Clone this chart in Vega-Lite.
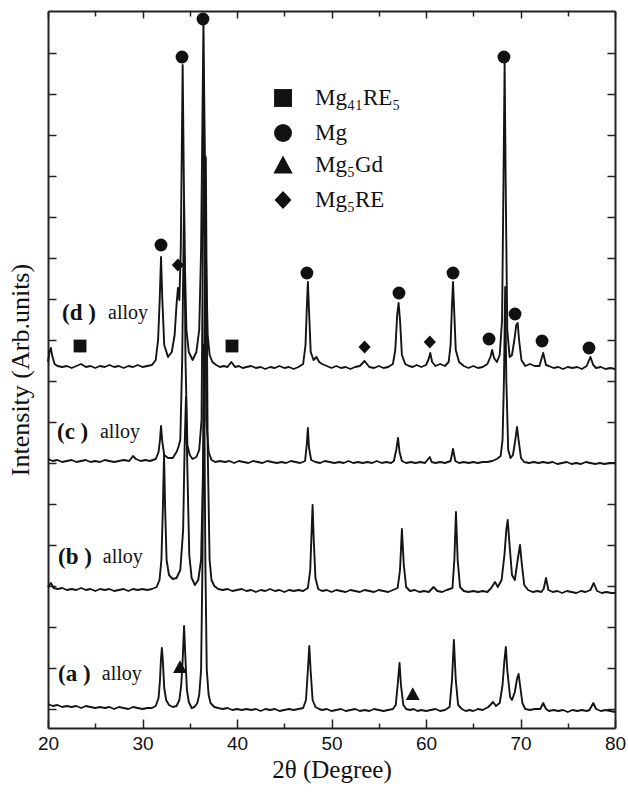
{
"$schema": "https://vega.github.io/schema/vega-lite/v6.json",
"width": 567, "height": 717,
"autosize": {"type": "none"},
"padding": {"left": 48, "top": 11, "right": 13, "bottom": 65},
"background": "white",
"config": {"view": {"stroke": null}, "font": "Liberation Serif"},
"datasets": {
"traces": [
{"sample":"a","two_theta":20,"intensity":5},{"sample":"a","two_theta":20.5,"intensity":3},{"sample":"a","two_theta":21,"intensity":4},{"sample":"a","two_theta":21.5,"intensity":2},{"sample":"a","two_theta":22,"intensity":3},{"sample":"a","two_theta":22.5,"intensity":2},{"sample":"a","two_theta":23,"intensity":3},{"sample":"a","two_theta":23.5,"intensity":1},{"sample":"a","two_theta":24,"intensity":3},{"sample":"a","two_theta":24.5,"intensity":2},{"sample":"a","two_theta":25,"intensity":1},{"sample":"a","two_theta":25.5,"intensity":2},{"sample":"a","two_theta":26,"intensity":1},{"sample":"a","two_theta":26.5,"intensity":2},{"sample":"a","two_theta":27,"intensity":0},{"sample":"a","two_theta":27.5,"intensity":2},{"sample":"a","two_theta":28,"intensity":1},{"sample":"a","two_theta":28.5,"intensity":0},{"sample":"a","two_theta":29,"intensity":2},{"sample":"a","two_theta":29.5,"intensity":1},{"sample":"a","two_theta":30,"intensity":0},{"sample":"a","two_theta":30.5,"intensity":1},{"sample":"a","two_theta":31,"intensity":1},{"sample":"a","two_theta":31.4,"intensity":3},{"sample":"a","two_theta":31.7,"intensity":11},{"sample":"a","two_theta":31.85,"intensity":29},{"sample":"a","two_theta":31.95,"intensity":49},{"sample":"a","two_theta":32.05,"intensity":61},{"sample":"a","two_theta":32.15,"intensity":49},{"sample":"a","two_theta":32.3,"intensity":21},{"sample":"a","two_theta":32.5,"intensity":9},{"sample":"a","two_theta":32.8,"intensity":4},{"sample":"a","two_theta":33.2,"intensity":2},{"sample":"a","two_theta":33.6,"intensity":3},{"sample":"a","two_theta":33.9,"intensity":9},{"sample":"a","two_theta":34.1,"intensity":24},{"sample":"a","two_theta":34.25,"intensity":49},{"sample":"a","two_theta":34.4,"intensity":83},{"sample":"a","two_theta":34.55,"intensity":49},{"sample":"a","two_theta":34.7,"intensity":19},{"sample":"a","two_theta":34.9,"intensity":7},{"sample":"a","two_theta":35.2,"intensity":1},{"sample":"a","two_theta":35.5,"intensity":2},{"sample":"a","two_theta":35.8,"intensity":6},{"sample":"a","two_theta":36.0,"intensity":14},{"sample":"a","two_theta":36.2,"intensity":39},{"sample":"a","two_theta":36.35,"intensity":149},{"sample":"a","two_theta":36.5,"intensity":364},{"sample":"a","two_theta":36.65,"intensity":149},{"sample":"a","two_theta":36.8,"intensity":39},{"sample":"a","two_theta":37,"intensity":14},{"sample":"a","two_theta":37.2,"intensity":6},{"sample":"a","two_theta":37.6,"intensity":2},{"sample":"a","two_theta":38,"intensity":1},{"sample":"a","two_theta":38.5,"intensity":0},{"sample":"a","two_theta":39,"intensity":1},{"sample":"a","two_theta":39.5,"intensity":-1},{"sample":"a","two_theta":40,"intensity":0},{"sample":"a","two_theta":40.5,"intensity":-1},{"sample":"a","two_theta":41,"intensity":0},{"sample":"a","two_theta":41.5,"intensity":-1},{"sample":"a","two_theta":42,"intensity":0},{"sample":"a","two_theta":42.5,"intensity":-2},{"sample":"a","two_theta":43,"intensity":0},{"sample":"a","two_theta":43.5,"intensity":-1},{"sample":"a","two_theta":44,"intensity":0},{"sample":"a","two_theta":44.5,"intensity":-2},{"sample":"a","two_theta":45,"intensity":-1},{"sample":"a","two_theta":45.5,"intensity":0},{"sample":"a","two_theta":46,"intensity":-1},{"sample":"a","two_theta":46.5,"intensity":0},{"sample":"a","two_theta":47,"intensity":1},{"sample":"a","two_theta":47.3,"intensity":9},{"sample":"a","two_theta":47.5,"intensity":39},{"sample":"a","two_theta":47.65,"intensity":63},{"sample":"a","two_theta":47.8,"intensity":37},{"sample":"a","two_theta":48,"intensity":9},{"sample":"a","two_theta":48.3,"intensity":2},{"sample":"a","two_theta":48.7,"intensity":0},{"sample":"a","two_theta":49,"intensity":-1},{"sample":"a","two_theta":49.5,"intensity":0},{"sample":"a","two_theta":50,"intensity":-2},{"sample":"a","two_theta":50.5,"intensity":-1},{"sample":"a","two_theta":51,"intensity":0},{"sample":"a","two_theta":51.5,"intensity":-2},{"sample":"a","two_theta":52,"intensity":-1},{"sample":"a","two_theta":52.5,"intensity":0},{"sample":"a","two_theta":53,"intensity":-2},{"sample":"a","two_theta":53.5,"intensity":-1},{"sample":"a","two_theta":54,"intensity":-2},{"sample":"a","two_theta":54.5,"intensity":0},{"sample":"a","two_theta":55,"intensity":-1},{"sample":"a","two_theta":55.5,"intensity":-2},{"sample":"a","two_theta":56,"intensity":-1},{"sample":"a","two_theta":56.5,"intensity":0},{"sample":"a","two_theta":56.8,"intensity":4},{"sample":"a","two_theta":57,"intensity":24},{"sample":"a","two_theta":57.2,"intensity":46},{"sample":"a","two_theta":57.35,"intensity":24},{"sample":"a","two_theta":57.6,"intensity":4},{"sample":"a","two_theta":57.9,"intensity":0},{"sample":"a","two_theta":58.3,"intensity":-1},{"sample":"a","two_theta":58.7,"intensity":0},{"sample":"a","two_theta":59.1,"intensity":-2},{"sample":"a","two_theta":59.5,"intensity":-1},{"sample":"a","two_theta":60,"intensity":-2},{"sample":"a","two_theta":60.5,"intensity":-1},{"sample":"a","two_theta":61,"intensity":0},{"sample":"a","two_theta":61.5,"intensity":-2},{"sample":"a","two_theta":62,"intensity":-1},{"sample":"a","two_theta":62.5,"intensity":2},{"sample":"a","two_theta":62.75,"intensity":29},{"sample":"a","two_theta":62.95,"intensity":69},{"sample":"a","two_theta":63.15,"intensity":29},{"sample":"a","two_theta":63.4,"intensity":4},{"sample":"a","two_theta":63.8,"intensity":0},{"sample":"a","two_theta":64.2,"intensity":-2},{"sample":"a","two_theta":64.6,"intensity":-1},{"sample":"a","two_theta":65,"intensity":-2},{"sample":"a","two_theta":65.5,"intensity":0},{"sample":"a","two_theta":66,"intensity":-1},{"sample":"a","two_theta":66.6,"intensity":2},{"sample":"a","two_theta":67.1,"intensity":7},{"sample":"a","two_theta":67.4,"intensity":3},{"sample":"a","two_theta":67.8,"intensity":6},{"sample":"a","two_theta":68.1,"intensity":24},{"sample":"a","two_theta":68.3,"intensity":49},{"sample":"a","two_theta":68.45,"intensity":62},{"sample":"a","two_theta":68.6,"intensity":39},{"sample":"a","two_theta":68.9,"intensity":12},{"sample":"a","two_theta":69.1,"intensity":9},{"sample":"a","two_theta":69.4,"intensity":17},{"sample":"a","two_theta":69.65,"intensity":31},{"sample":"a","two_theta":69.8,"intensity":35},{"sample":"a","two_theta":69.95,"intensity":24},{"sample":"a","two_theta":70.2,"intensity":6},{"sample":"a","two_theta":70.5,"intensity":0},{"sample":"a","two_theta":71,"intensity":-1},{"sample":"a","two_theta":71.5,"intensity":0},{"sample":"a","two_theta":72.1,"intensity":0},{"sample":"a","two_theta":72.4,"intensity":6},{"sample":"a","two_theta":72.7,"intensity":0},{"sample":"a","two_theta":73,"intensity":-2},{"sample":"a","two_theta":73.5,"intensity":-1},{"sample":"a","two_theta":74,"intensity":-2},{"sample":"a","two_theta":74.5,"intensity":-1},{"sample":"a","two_theta":75,"intensity":-3},{"sample":"a","two_theta":75.5,"intensity":-1},{"sample":"a","two_theta":76,"intensity":-2},{"sample":"a","two_theta":76.5,"intensity":-1},{"sample":"a","two_theta":77,"intensity":-2},{"sample":"a","two_theta":77.3,"intensity":-1},{"sample":"a","two_theta":77.7,"intensity":6},{"sample":"a","two_theta":78,"intensity":0},{"sample":"a","two_theta":78.5,"intensity":-2},{"sample":"a","two_theta":79,"intensity":-1},{"sample":"a","two_theta":79.5,"intensity":-2},{"sample":"a","two_theta":80,"intensity":-3},
{"sample":"b","two_theta":20,"intensity":122},{"sample":"b","two_theta":20.3,"intensity":126},{"sample":"b","two_theta":20.6,"intensity":121},{"sample":"b","two_theta":21,"intensity":120},{"sample":"b","two_theta":21.5,"intensity":121},{"sample":"b","two_theta":22,"intensity":119},{"sample":"b","two_theta":22.5,"intensity":120},{"sample":"b","two_theta":23,"intensity":119},{"sample":"b","two_theta":23.5,"intensity":121},{"sample":"b","two_theta":24,"intensity":119},{"sample":"b","two_theta":24.5,"intensity":120},{"sample":"b","two_theta":25,"intensity":118},{"sample":"b","two_theta":25.5,"intensity":120},{"sample":"b","two_theta":26,"intensity":119},{"sample":"b","two_theta":26.5,"intensity":120},{"sample":"b","two_theta":27,"intensity":118},{"sample":"b","two_theta":27.5,"intensity":119},{"sample":"b","two_theta":28,"intensity":120},{"sample":"b","two_theta":28.5,"intensity":118},{"sample":"b","two_theta":29,"intensity":120},{"sample":"b","two_theta":29.5,"intensity":119},{"sample":"b","two_theta":30,"intensity":120},{"sample":"b","two_theta":30.5,"intensity":119},{"sample":"b","two_theta":31,"intensity":120},{"sample":"b","two_theta":31.5,"intensity":122},{"sample":"b","two_theta":31.8,"intensity":129},{"sample":"b","two_theta":32,"intensity":149},{"sample":"b","two_theta":32.15,"intensity":199},{"sample":"b","two_theta":32.28,"intensity":254},{"sample":"b","two_theta":32.4,"intensity":199},{"sample":"b","two_theta":32.55,"intensity":149},{"sample":"b","two_theta":32.8,"intensity":134},{"sample":"b","two_theta":33.2,"intensity":130},{"sample":"b","two_theta":33.6,"intensity":131},{"sample":"b","two_theta":34,"intensity":139},{"sample":"b","two_theta":34.3,"intensity":179},{"sample":"b","two_theta":34.45,"intensity":259},{"sample":"b","two_theta":34.6,"intensity":312},{"sample":"b","two_theta":34.75,"intensity":239},{"sample":"b","two_theta":34.95,"intensity":154},{"sample":"b","two_theta":35.2,"intensity":131},{"sample":"b","two_theta":35.55,"intensity":124},{"sample":"b","two_theta":35.9,"intensity":129},{"sample":"b","two_theta":36.2,"intensity":149},{"sample":"b","two_theta":36.45,"intensity":259},{"sample":"b","two_theta":36.7,"intensity":552},{"sample":"b","two_theta":36.9,"intensity":259},{"sample":"b","two_theta":37.1,"intensity":149},{"sample":"b","two_theta":37.3,"intensity":129},{"sample":"b","two_theta":37.6,"intensity":123},{"sample":"b","two_theta":38,"intensity":120},{"sample":"b","two_theta":38.5,"intensity":119},{"sample":"b","two_theta":39,"intensity":120},{"sample":"b","two_theta":39.5,"intensity":118},{"sample":"b","two_theta":40,"intensity":119},{"sample":"b","two_theta":40.5,"intensity":120},{"sample":"b","two_theta":41,"intensity":118},{"sample":"b","two_theta":41.5,"intensity":119},{"sample":"b","two_theta":42,"intensity":117},{"sample":"b","two_theta":42.5,"intensity":119},{"sample":"b","two_theta":43,"intensity":118},{"sample":"b","two_theta":43.5,"intensity":120},{"sample":"b","two_theta":44,"intensity":118},{"sample":"b","two_theta":44.5,"intensity":119},{"sample":"b","two_theta":45,"intensity":117},{"sample":"b","two_theta":45.5,"intensity":119},{"sample":"b","two_theta":46,"intensity":118},{"sample":"b","two_theta":46.5,"intensity":119},{"sample":"b","two_theta":47,"intensity":118},{"sample":"b","two_theta":47.5,"intensity":121},{"sample":"b","two_theta":47.75,"intensity":139},{"sample":"b","two_theta":47.9,"intensity":179},{"sample":"b","two_theta":48,"intensity":204},{"sample":"b","two_theta":48.12,"intensity":169},{"sample":"b","two_theta":48.3,"intensity":131},{"sample":"b","two_theta":48.6,"intensity":120},{"sample":"b","two_theta":49,"intensity":118},{"sample":"b","two_theta":49.5,"intensity":119},{"sample":"b","two_theta":50,"intensity":117},{"sample":"b","two_theta":50.5,"intensity":119},{"sample":"b","two_theta":51,"intensity":118},{"sample":"b","two_theta":51.5,"intensity":117},{"sample":"b","two_theta":52,"intensity":119},{"sample":"b","two_theta":52.5,"intensity":118},{"sample":"b","two_theta":53,"intensity":117},{"sample":"b","two_theta":53.5,"intensity":119},{"sample":"b","two_theta":54,"intensity":118},{"sample":"b","two_theta":54.5,"intensity":117},{"sample":"b","two_theta":55,"intensity":119},{"sample":"b","two_theta":55.5,"intensity":118},{"sample":"b","two_theta":56,"intensity":117},{"sample":"b","two_theta":56.5,"intensity":119},{"sample":"b","two_theta":57,"intensity":121},{"sample":"b","two_theta":57.25,"intensity":139},{"sample":"b","two_theta":57.45,"intensity":180},{"sample":"b","two_theta":57.65,"intensity":144},{"sample":"b","two_theta":57.9,"intensity":122},{"sample":"b","two_theta":58.3,"intensity":118},{"sample":"b","two_theta":58.8,"intensity":119},{"sample":"b","two_theta":59.3,"intensity":117},{"sample":"b","two_theta":59.8,"intensity":118},{"sample":"b","two_theta":60.3,"intensity":117},{"sample":"b","two_theta":60.8,"intensity":122},{"sample":"b","two_theta":61.2,"intensity":118},{"sample":"b","two_theta":61.7,"intensity":117},{"sample":"b","two_theta":62.2,"intensity":119},{"sample":"b","two_theta":62.8,"intensity":121},{"sample":"b","two_theta":63,"intensity":149},{"sample":"b","two_theta":63.17,"intensity":197},{"sample":"b","two_theta":63.35,"intensity":149},{"sample":"b","two_theta":63.6,"intensity":122},{"sample":"b","two_theta":64,"intensity":118},{"sample":"b","two_theta":64.5,"intensity":117},{"sample":"b","two_theta":65,"intensity":118},{"sample":"b","two_theta":65.5,"intensity":117},{"sample":"b","two_theta":66,"intensity":118},{"sample":"b","two_theta":66.5,"intensity":117},{"sample":"b","two_theta":66.9,"intensity":121},{"sample":"b","two_theta":67.3,"intensity":127},{"sample":"b","two_theta":67.6,"intensity":122},{"sample":"b","two_theta":68,"intensity":129},{"sample":"b","two_theta":68.3,"intensity":154},{"sample":"b","two_theta":68.5,"intensity":179},{"sample":"b","two_theta":68.65,"intensity":189},{"sample":"b","two_theta":68.8,"intensity":169},{"sample":"b","two_theta":69.1,"intensity":134},{"sample":"b","two_theta":69.4,"intensity":129},{"sample":"b","two_theta":69.7,"intensity":149},{"sample":"b","two_theta":69.95,"intensity":164},{"sample":"b","two_theta":70.15,"intensity":144},{"sample":"b","two_theta":70.4,"intensity":124},{"sample":"b","two_theta":70.8,"intensity":119},{"sample":"b","two_theta":71.3,"intensity":117},{"sample":"b","two_theta":71.8,"intensity":118},{"sample":"b","two_theta":72.2,"intensity":117},{"sample":"b","two_theta":72.45,"intensity":120},{"sample":"b","two_theta":72.7,"intensity":131},{"sample":"b","two_theta":72.95,"intensity":119},{"sample":"b","two_theta":73.4,"intensity":117},{"sample":"b","two_theta":73.9,"intensity":118},{"sample":"b","two_theta":74.4,"intensity":116},{"sample":"b","two_theta":74.9,"intensity":118},{"sample":"b","two_theta":75.4,"intensity":117},{"sample":"b","two_theta":75.9,"intensity":116},{"sample":"b","two_theta":76.4,"intensity":118},{"sample":"b","two_theta":76.9,"intensity":117},{"sample":"b","two_theta":77.4,"intensity":119},{"sample":"b","two_theta":77.75,"intensity":126},{"sample":"b","two_theta":78.1,"intensity":118},{"sample":"b","two_theta":78.6,"intensity":116},{"sample":"b","two_theta":79.1,"intensity":117},{"sample":"b","two_theta":79.6,"intensity":116},{"sample":"b","two_theta":80,"intensity":116},
{"sample":"c","two_theta":20,"intensity":250},{"sample":"c","two_theta":20.5,"intensity":248},{"sample":"c","two_theta":21,"intensity":249},{"sample":"c","two_theta":21.5,"intensity":247},{"sample":"c","two_theta":22,"intensity":248},{"sample":"c","two_theta":22.5,"intensity":249},{"sample":"c","two_theta":23,"intensity":247},{"sample":"c","two_theta":23.5,"intensity":248},{"sample":"c","two_theta":24,"intensity":249},{"sample":"c","two_theta":24.5,"intensity":247},{"sample":"c","two_theta":25,"intensity":248},{"sample":"c","two_theta":25.5,"intensity":247},{"sample":"c","two_theta":26,"intensity":249},{"sample":"c","two_theta":26.5,"intensity":248},{"sample":"c","two_theta":27,"intensity":247},{"sample":"c","two_theta":27.5,"intensity":248},{"sample":"c","two_theta":28,"intensity":249},{"sample":"c","two_theta":28.6,"intensity":248},{"sample":"c","two_theta":29,"intensity":253},{"sample":"c","two_theta":29.3,"intensity":250},{"sample":"c","two_theta":29.8,"intensity":248},{"sample":"c","two_theta":30.3,"intensity":249},{"sample":"c","two_theta":30.8,"intensity":248},{"sample":"c","two_theta":31.4,"intensity":250},{"sample":"c","two_theta":31.7,"intensity":257},{"sample":"c","two_theta":31.85,"intensity":269},{"sample":"c","two_theta":31.96,"intensity":283},{"sample":"c","two_theta":32.1,"intensity":267},{"sample":"c","two_theta":32.3,"intensity":254},{"sample":"c","two_theta":32.7,"intensity":251},{"sample":"c","two_theta":33.2,"intensity":251},{"sample":"c","two_theta":33.6,"intensity":257},{"sample":"c","two_theta":33.8,"intensity":262},{"sample":"c","two_theta":34,"intensity":269},{"sample":"c","two_theta":34.2,"intensity":349},{"sample":"c","two_theta":34.4,"intensity":509},{"sample":"c","two_theta":34.55,"intensity":349},{"sample":"c","two_theta":34.75,"intensity":264},{"sample":"c","two_theta":35,"intensity":254},{"sample":"c","two_theta":35.3,"intensity":250},{"sample":"c","two_theta":35.7,"intensity":252},{"sample":"c","two_theta":36,"intensity":259},{"sample":"c","two_theta":36.25,"intensity":289},{"sample":"c","two_theta":36.5,"intensity":609},{"sample":"c","two_theta":36.75,"intensity":289},{"sample":"c","two_theta":37,"intensity":257},{"sample":"c","two_theta":37.3,"intensity":249},{"sample":"c","two_theta":37.7,"intensity":247},{"sample":"c","two_theta":38.2,"intensity":248},{"sample":"c","two_theta":38.7,"intensity":247},{"sample":"c","two_theta":39.2,"intensity":248},{"sample":"c","two_theta":39.7,"intensity":246},{"sample":"c","two_theta":40.2,"intensity":248},{"sample":"c","two_theta":40.7,"intensity":247},{"sample":"c","two_theta":41.2,"intensity":246},{"sample":"c","two_theta":41.7,"intensity":248},{"sample":"c","two_theta":42.2,"intensity":247},{"sample":"c","two_theta":42.7,"intensity":246},{"sample":"c","two_theta":43.2,"intensity":248},{"sample":"c","two_theta":43.7,"intensity":247},{"sample":"c","two_theta":44.2,"intensity":246},{"sample":"c","two_theta":44.7,"intensity":247},{"sample":"c","two_theta":45.2,"intensity":246},{"sample":"c","two_theta":45.7,"intensity":248},{"sample":"c","two_theta":46.2,"intensity":247},{"sample":"c","two_theta":46.7,"intensity":246},{"sample":"c","two_theta":47.2,"intensity":248},{"sample":"c","two_theta":47.38,"intensity":264},{"sample":"c","two_theta":47.5,"intensity":281},{"sample":"c","two_theta":47.62,"intensity":261},{"sample":"c","two_theta":47.85,"intensity":249},{"sample":"c","two_theta":48.3,"intensity":247},{"sample":"c","two_theta":48.8,"intensity":246},{"sample":"c","two_theta":49.3,"intensity":248},{"sample":"c","two_theta":49.8,"intensity":247},{"sample":"c","two_theta":50.3,"intensity":246},{"sample":"c","two_theta":50.8,"intensity":247},{"sample":"c","two_theta":51.3,"intensity":246},{"sample":"c","two_theta":51.8,"intensity":248},{"sample":"c","two_theta":52.3,"intensity":246},{"sample":"c","two_theta":52.8,"intensity":247},{"sample":"c","two_theta":53.3,"intensity":246},{"sample":"c","two_theta":53.8,"intensity":247},{"sample":"c","two_theta":54.3,"intensity":246},{"sample":"c","two_theta":54.8,"intensity":248},{"sample":"c","two_theta":55.3,"intensity":246},{"sample":"c","two_theta":55.8,"intensity":247},{"sample":"c","two_theta":56.3,"intensity":246},{"sample":"c","two_theta":56.6,"intensity":248},{"sample":"c","two_theta":56.85,"intensity":259},{"sample":"c","two_theta":57.04,"intensity":271},{"sample":"c","two_theta":57.2,"intensity":257},{"sample":"c","two_theta":57.45,"intensity":248},{"sample":"c","two_theta":57.9,"intensity":246},{"sample":"c","two_theta":58.4,"intensity":247},{"sample":"c","two_theta":58.9,"intensity":246},{"sample":"c","two_theta":59.4,"intensity":247},{"sample":"c","two_theta":59.9,"intensity":246},{"sample":"c","two_theta":60.4,"intensity":252},{"sample":"c","two_theta":60.6,"intensity":247},{"sample":"c","two_theta":61,"intensity":246},{"sample":"c","two_theta":61.5,"intensity":247},{"sample":"c","two_theta":62,"intensity":246},{"sample":"c","two_theta":62.6,"intensity":248},{"sample":"c","two_theta":62.86,"intensity":260},{"sample":"c","two_theta":63.1,"intensity":248},{"sample":"c","two_theta":63.5,"intensity":246},{"sample":"c","two_theta":64,"intensity":247},{"sample":"c","two_theta":64.5,"intensity":246},{"sample":"c","two_theta":65,"intensity":247},{"sample":"c","two_theta":65.5,"intensity":246},{"sample":"c","two_theta":66,"intensity":247},{"sample":"c","two_theta":66.5,"intensity":247},{"sample":"c","two_theta":67,"intensity":248},{"sample":"c","two_theta":67.5,"intensity":250},{"sample":"c","two_theta":67.9,"intensity":253},{"sample":"c","two_theta":68.1,"intensity":269},{"sample":"c","two_theta":68.25,"intensity":329},{"sample":"c","two_theta":68.38,"intensity":422},{"sample":"c","two_theta":68.5,"intensity":329},{"sample":"c","two_theta":68.7,"intensity":259},{"sample":"c","two_theta":68.95,"intensity":251},{"sample":"c","two_theta":69.2,"intensity":254},{"sample":"c","two_theta":69.45,"intensity":269},{"sample":"c","two_theta":69.63,"intensity":282},{"sample":"c","two_theta":69.8,"intensity":269},{"sample":"c","two_theta":70.05,"intensity":251},{"sample":"c","two_theta":70.4,"intensity":247},{"sample":"c","two_theta":70.9,"intensity":246},{"sample":"c","two_theta":71.4,"intensity":247},{"sample":"c","two_theta":71.9,"intensity":246},{"sample":"c","two_theta":72.4,"intensity":247},{"sample":"c","two_theta":72.9,"intensity":246},{"sample":"c","two_theta":73.4,"intensity":247},{"sample":"c","two_theta":73.9,"intensity":245},{"sample":"c","two_theta":74.4,"intensity":246},{"sample":"c","two_theta":74.9,"intensity":247},{"sample":"c","two_theta":75.4,"intensity":245},{"sample":"c","two_theta":75.9,"intensity":246},{"sample":"c","two_theta":76.4,"intensity":245},{"sample":"c","two_theta":76.9,"intensity":247},{"sample":"c","two_theta":77.4,"intensity":246},{"sample":"c","two_theta":77.9,"intensity":245},{"sample":"c","two_theta":78.4,"intensity":246},{"sample":"c","two_theta":78.9,"intensity":245},{"sample":"c","two_theta":79.4,"intensity":246},{"sample":"c","two_theta":80,"intensity":246},
{"sample":"d","two_theta":20,"intensity":347},{"sample":"d","two_theta":20.15,"intensity":357},{"sample":"d","two_theta":20.3,"intensity":361},{"sample":"d","two_theta":20.45,"intensity":353},{"sample":"d","two_theta":20.7,"intensity":345},{"sample":"d","two_theta":21,"intensity":343},{"sample":"d","two_theta":21.5,"intensity":342},{"sample":"d","two_theta":22,"intensity":343},{"sample":"d","two_theta":22.5,"intensity":341},{"sample":"d","two_theta":23,"intensity":343},{"sample":"d","two_theta":23.5,"intensity":345},{"sample":"d","two_theta":24,"intensity":342},{"sample":"d","two_theta":24.5,"intensity":343},{"sample":"d","two_theta":25,"intensity":341},{"sample":"d","two_theta":25.5,"intensity":343},{"sample":"d","two_theta":26,"intensity":342},{"sample":"d","two_theta":26.5,"intensity":344},{"sample":"d","two_theta":27,"intensity":342},{"sample":"d","two_theta":27.5,"intensity":343},{"sample":"d","two_theta":28,"intensity":341},{"sample":"d","two_theta":28.5,"intensity":343},{"sample":"d","two_theta":29,"intensity":342},{"sample":"d","two_theta":29.5,"intensity":344},{"sample":"d","two_theta":30,"intensity":342},{"sample":"d","two_theta":30.5,"intensity":343},{"sample":"d","two_theta":31,"intensity":344},{"sample":"d","two_theta":31.4,"intensity":349},{"sample":"d","two_theta":31.65,"intensity":369},{"sample":"d","two_theta":31.82,"intensity":409},{"sample":"d","two_theta":31.96,"intensity":452},{"sample":"d","two_theta":32.1,"intensity":409},{"sample":"d","two_theta":32.3,"intensity":364},{"sample":"d","two_theta":32.7,"intensity":352},{"sample":"d","two_theta":33.1,"intensity":357},{"sample":"d","two_theta":33.4,"intensity":374},{"sample":"d","two_theta":33.6,"intensity":404},{"sample":"d","two_theta":33.75,"intensity":421},{"sample":"d","two_theta":33.9,"intensity":409},{"sample":"d","two_theta":34.05,"intensity":459},{"sample":"d","two_theta":34.25,"intensity":644},{"sample":"d","two_theta":34.45,"intensity":459},{"sample":"d","two_theta":34.65,"intensity":379},{"sample":"d","two_theta":34.9,"intensity":357},{"sample":"d","two_theta":35.3,"intensity":349},{"sample":"d","two_theta":35.7,"intensity":357},{"sample":"d","two_theta":36,"intensity":379},{"sample":"d","two_theta":36.2,"intensity":459},{"sample":"d","two_theta":36.45,"intensity":687},{"sample":"d","two_theta":36.7,"intensity":459},{"sample":"d","two_theta":36.9,"intensity":374},{"sample":"d","two_theta":37.1,"intensity":354},{"sample":"d","two_theta":37.4,"intensity":347},{"sample":"d","two_theta":37.8,"intensity":344},{"sample":"d","two_theta":38.2,"intensity":342},{"sample":"d","two_theta":38.6,"intensity":343},{"sample":"d","two_theta":39,"intensity":342},{"sample":"d","two_theta":39.4,"intensity":347},{"sample":"d","two_theta":39.8,"intensity":342},{"sample":"d","two_theta":40.2,"intensity":343},{"sample":"d","two_theta":40.6,"intensity":341},{"sample":"d","two_theta":41,"intensity":342},{"sample":"d","two_theta":41.5,"intensity":343},{"sample":"d","two_theta":42,"intensity":341},{"sample":"d","two_theta":42.5,"intensity":342},{"sample":"d","two_theta":43,"intensity":340},{"sample":"d","two_theta":43.5,"intensity":342},{"sample":"d","two_theta":44,"intensity":341},{"sample":"d","two_theta":44.5,"intensity":343},{"sample":"d","two_theta":45,"intensity":341},{"sample":"d","two_theta":45.5,"intensity":342},{"sample":"d","two_theta":46,"intensity":340},{"sample":"d","two_theta":46.5,"intensity":342},{"sample":"d","two_theta":47,"intensity":345},{"sample":"d","two_theta":47.25,"intensity":364},{"sample":"d","two_theta":47.4,"intensity":404},{"sample":"d","two_theta":47.5,"intensity":427},{"sample":"d","two_theta":47.62,"intensity":399},{"sample":"d","two_theta":47.8,"intensity":357},{"sample":"d","two_theta":48.1,"intensity":349},{"sample":"d","two_theta":48.4,"intensity":352},{"sample":"d","two_theta":48.7,"intensity":347},{"sample":"d","two_theta":49,"intensity":345},{"sample":"d","two_theta":49.5,"intensity":343},{"sample":"d","two_theta":50,"intensity":341},{"sample":"d","two_theta":50.5,"intensity":343},{"sample":"d","two_theta":51,"intensity":341},{"sample":"d","two_theta":51.5,"intensity":342},{"sample":"d","two_theta":52,"intensity":340},{"sample":"d","two_theta":52.5,"intensity":342},{"sample":"d","two_theta":53,"intensity":343},{"sample":"d","two_theta":53.5,"intensity":348},{"sample":"d","two_theta":54,"intensity":342},{"sample":"d","two_theta":54.5,"intensity":341},{"sample":"d","two_theta":55,"intensity":343},{"sample":"d","two_theta":55.5,"intensity":341},{"sample":"d","two_theta":56,"intensity":342},{"sample":"d","two_theta":56.5,"intensity":345},{"sample":"d","two_theta":56.75,"intensity":359},{"sample":"d","two_theta":56.95,"intensity":394},{"sample":"d","two_theta":57.1,"intensity":406},{"sample":"d","two_theta":57.25,"intensity":389},{"sample":"d","two_theta":57.45,"intensity":354},{"sample":"d","two_theta":57.8,"intensity":345},{"sample":"d","two_theta":58.2,"intensity":343},{"sample":"d","two_theta":58.6,"intensity":342},{"sample":"d","two_theta":59,"intensity":344},{"sample":"d","two_theta":59.5,"intensity":342},{"sample":"d","two_theta":60,"intensity":344},{"sample":"d","two_theta":60.25,"intensity":349},{"sample":"d","two_theta":60.45,"intensity":356},{"sample":"d","two_theta":60.65,"intensity":347},{"sample":"d","two_theta":61,"intensity":343},{"sample":"d","two_theta":61.5,"intensity":345},{"sample":"d","two_theta":62,"intensity":343},{"sample":"d","two_theta":62.4,"intensity":347},{"sample":"d","two_theta":62.6,"intensity":364},{"sample":"d","two_theta":62.75,"intensity":404},{"sample":"d","two_theta":62.86,"intensity":427},{"sample":"d","two_theta":62.98,"intensity":399},{"sample":"d","two_theta":63.15,"intensity":359},{"sample":"d","two_theta":63.5,"intensity":347},{"sample":"d","two_theta":64,"intensity":343},{"sample":"d","two_theta":64.5,"intensity":341},{"sample":"d","two_theta":65,"intensity":343},{"sample":"d","two_theta":65.5,"intensity":341},{"sample":"d","two_theta":66,"intensity":342},{"sample":"d","two_theta":66.5,"intensity":345},{"sample":"d","two_theta":66.85,"intensity":353},{"sample":"d","two_theta":67,"intensity":359},{"sample":"d","two_theta":67.2,"intensity":351},{"sample":"d","two_theta":67.5,"intensity":347},{"sample":"d","two_theta":67.8,"intensity":354},{"sample":"d","two_theta":68.05,"intensity":389},{"sample":"d","two_theta":68.2,"intensity":529},{"sample":"d","two_theta":68.32,"intensity":646},{"sample":"d","two_theta":68.45,"intensity":509},{"sample":"d","two_theta":68.6,"intensity":379},{"sample":"d","two_theta":68.85,"intensity":352},{"sample":"d","two_theta":69.1,"intensity":354},{"sample":"d","two_theta":69.35,"intensity":369},{"sample":"d","two_theta":69.55,"intensity":384},{"sample":"d","two_theta":69.7,"intensity":386},{"sample":"d","two_theta":69.85,"intensity":369},{"sample":"d","two_theta":70.1,"intensity":349},{"sample":"d","two_theta":70.5,"intensity":343},{"sample":"d","two_theta":71,"intensity":345},{"sample":"d","two_theta":71.5,"intensity":343},{"sample":"d","two_theta":72,"intensity":343},{"sample":"d","two_theta":72.4,"intensity":356},{"sample":"d","two_theta":72.7,"intensity":344},{"sample":"d","two_theta":73,"intensity":343},{"sample":"d","two_theta":73.5,"intensity":341},{"sample":"d","two_theta":74,"intensity":342},{"sample":"d","two_theta":74.5,"intensity":340},{"sample":"d","two_theta":75,"intensity":342},{"sample":"d","two_theta":75.5,"intensity":341},{"sample":"d","two_theta":76,"intensity":342},{"sample":"d","two_theta":76.5,"intensity":340},{"sample":"d","two_theta":77,"intensity":343},{"sample":"d","two_theta":77.4,"intensity":352},{"sample":"d","two_theta":77.7,"intensity":344},{"sample":"d","two_theta":78,"intensity":341},{"sample":"d","two_theta":78.5,"intensity":342},{"sample":"d","two_theta":79,"intensity":340},{"sample":"d","two_theta":79.5,"intensity":341},{"sample":"d","two_theta":80,"intensity":340}
],
"markers": [
{"phase":"Mg","kind":"peak","two_theta":31.96,"intensity":464},{"phase":"Mg","kind":"peak","two_theta":34.18,"intensity":652},{"phase":"Mg","kind":"peak","two_theta":36.4,"intensity":690},{"phase":"Mg","kind":"peak","two_theta":47.4,"intensity":436},{"phase":"Mg","kind":"peak","two_theta":57.14,"intensity":416},{"phase":"Mg","kind":"peak","two_theta":62.86,"intensity":436},{"phase":"Mg","kind":"peak","two_theta":66.67,"intensity":370},{"phase":"Mg","kind":"peak","two_theta":68.25,"intensity":652},{"phase":"Mg","kind":"peak","two_theta":69.42,"intensity":395},{"phase":"Mg","kind":"peak","two_theta":72.28,"intensity":368},{"phase":"Mg","kind":"peak","two_theta":77.25,"intensity":361},
{"phase":"Mg41RE5","kind":"peak","two_theta":23.39,"intensity":363},{"phase":"Mg41RE5","kind":"peak","two_theta":39.47,"intensity":363},
{"phase":"Mg5RE","kind":"peak","two_theta":33.75,"intensity":444},{"phase":"Mg5RE","kind":"peak","two_theta":53.5,"intensity":362},{"phase":"Mg5RE","kind":"peak","two_theta":60.4,"intensity":367},
{"phase":"Mg5Gd","kind":"peak","two_theta":33.97,"intensity":42},{"phase":"Mg5Gd","kind":"peak","two_theta":58.6,"intensity":15},
{"phase":"Mg41RE5","kind":"legend","two_theta":44.87,"intensity":611},{"phase":"Mg","kind":"legend","two_theta":44.87,"intensity":576},{"phase":"Mg5Gd","kind":"legend","two_theta":44.87,"intensity":544},{"phase":"Mg5RE","kind":"legend","two_theta":44.87,"intensity":509}
],
"legend_text": [
{"label":"Mg₄₁RE₅","two_theta":48.25,"intensity":611},{"label":"Mg","two_theta":48.25,"intensity":576},{"label":"Mg₅Gd","two_theta":48.25,"intensity":544},{"label":"Mg₅RE","two_theta":48.25,"intensity":509}
],
"sample_labels": [
{"part":"tag","text":"(d )","two_theta":21.48,"intensity":396},{"part":"word","text":"alloy","two_theta":26.35,"intensity":396},
{"part":"tag","text":"(c )","two_theta":20.95,"intensity":277},{"part":"word","text":"alloy","two_theta":25.5,"intensity":277},
{"part":"tag","text":"(b )","two_theta":21.06,"intensity":152},{"part":"word","text":"alloy","two_theta":25.8,"intensity":152},
{"part":"tag","text":"(a )","two_theta":21.06,"intensity":35},{"part":"word","text":"alloy","two_theta":25.7,"intensity":35}
]
},
"layer": [
{"data": {"name": "traces"},
 "mark": {"type": "line", "color": "#141414", "strokeWidth": 1.9, "strokeJoin": "round"},
 "encoding": {
  "x": {"field": "two_theta", "type": "quantitative", "scale": {"domain": [20, 80], "nice": false, "zero": false},
   "axis": {"orient": "bottom", "values": [20,25,30,35,40,45,50,55,60,65,70,75,80], "labelExpr": "datum.value % 10 === 0 ? datum.label : ''",
    "tickSize": {"condition": {"test": "datum.value % 10 === 0", "value": -9}, "value": -5},
    "tickColor": "#222", "tickWidth": 1.5, "domainColor": "#222", "domainWidth": 2, "grid": false,
    "labelFont": "Liberation Sans", "labelFontSize": 19, "labelColor": "#111", "labelPadding": 15, "labelFlush": false, "labelOverlap": false,
    "title": "2θ (Degree)", "titleFont": "Liberation Serif", "titleFontSize": 25, "titleFontWeight": "normal", "titleColor": "#111", "titlePadding": 0}},
  "y": {"field": "intensity", "type": "quantitative", "scale": {"domain": [-19, 698], "nice": false, "zero": false},
   "axis": {"orient": "left", "values": [0,41,82,123,164,205,246,287,328,369,410,451,492,533,574,615,656], "labels": false,
    "tickSize": -8, "tickColor": "#222", "tickWidth": 1.5, "domainColor": "#222", "domainWidth": 2, "grid": false,
    "title": "Intensity (Arb.units)", "titleFont": "Liberation Serif", "titleFontSize": 26, "titleFontWeight": "normal", "titleColor": "#111", "titlePadding": 14}},
  "detail": {"field": "sample", "type": "nominal"}
 }},
{"data": {"name": "markers"},
 "mark": {"type": "point", "filled": true, "color": "#111", "opacity": 1, "strokeWidth": 0},
 "encoding": {
  "x": {"field": "two_theta", "type": "quantitative", "scale": {"domain": [20, 80], "nice": false, "zero": false},
   "axis": {"orient": "top", "values": [20,25,30,35,40,45,50,55,60,65,70,75,80], "labels": false,
    "tickSize": {"condition": {"test": "datum.value % 10 === 0", "value": -7}, "value": -5},
    "tickColor": "#222", "tickWidth": 1.5, "domainColor": "#222", "domainWidth": 2, "grid": false, "title": null}},
  "y": {"field": "intensity", "type": "quantitative", "scale": {"domain": [-19, 698], "nice": false, "zero": false},
   "axis": {"orient": "right", "values": [0,41,82,123,164,205,246,287,328,369,410,451,492,533,574,615,656], "labels": false,
    "tickSize": -8, "tickColor": "#222", "tickWidth": 1.5, "domainColor": "#222", "domainWidth": 2, "grid": false, "title": null}},
  "shape": {"field": "phase", "type": "nominal", "scale": {"domain": ["Mg41RE5", "Mg", "Mg5Gd", "Mg5RE"], "range": ["square", "circle", "M0,-1.05L1.08,0.95L-1.08,0.95Z", "M0,-1L0.95,0L0,1L-0.95,0Z"]}, "legend": null},
  "size": {"field": "kind", "type": "nominal", "scale": {"domain": ["peak", "legend"], "range": [165, 320]}, "legend": null}
 }},
{"data": {"name": "legend_text"},
 "mark": {"type": "text", "align": "left", "baseline": "middle", "font": "Liberation Serif", "fontSize": 23, "color": "#111"},
 "encoding": {
  "x": {"field": "two_theta", "type": "quantitative", "axis": null},
  "y": {"field": "intensity", "type": "quantitative", "axis": null},
  "text": {"field": "label"}
 }},
{"data": {"name": "sample_labels"},
 "transform": [{"filter": "datum.part === 'tag'"}],
 "mark": {"type": "text", "align": "left", "baseline": "middle", "font": "Liberation Serif", "fontSize": 23, "fontWeight": "bold", "color": "#111"},
 "encoding": {
  "x": {"field": "two_theta", "type": "quantitative", "axis": null},
  "y": {"field": "intensity", "type": "quantitative", "axis": null},
  "text": {"field": "text"}
 }},
{"data": {"name": "sample_labels"},
 "transform": [{"filter": "datum.part === 'word'"}],
 "mark": {"type": "text", "align": "left", "baseline": "middle", "font": "Liberation Serif", "fontSize": 20, "color": "#111"},
 "encoding": {
  "x": {"field": "two_theta", "type": "quantitative", "axis": null},
  "y": {"field": "intensity", "type": "quantitative", "axis": null},
  "text": {"field": "text"}
 }}
],
"resolve": {"axis": {"x": "independent", "y": "independent"}}
}
